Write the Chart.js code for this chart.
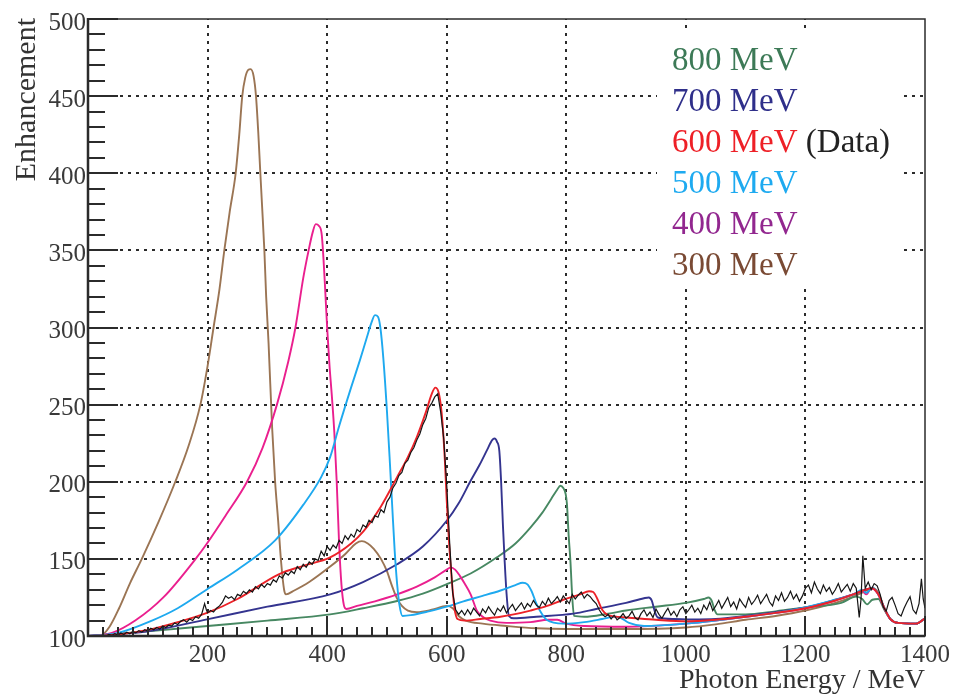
<!DOCTYPE html>
<html><head><meta charset="utf-8">
<script src="https://cdn.jsdelivr.net/npm/chart.js@4.4.1/dist/chart.umd.min.js"></script>
<style>html,body{margin:0;padding:0;background:#fff;overflow:hidden}</style>
</head><body>
<canvas id="c" width="955" height="695" style="display:block;width:955px;height:695px"></canvas>
<script>
// ---- tick values ----
const xMajorTicks = [200, 400, 600, 800, 1000, 1200, 1400];
const yMajorTicks = [100, 150, 200, 250, 300, 350, 400, 450, 500];
const xGridLines = [200, 400, 600, 800, 1000, 1200];
const yGridLines = [150, 200, 250, 300, 350, 400, 450];

// ---- legend ----
const legendLabels = ['800 MeV', '700 MeV', '600 MeV', '500 MeV', '400 MeV', '300 MeV'];
const legendColors = ['#3d7a57', '#2f2f8a', '#ee2027', '#1eaaf0', '#92278f', '#7a4a34'];

// ---- series [photon energy MeV, enhancement] ----
const data600 = [[20,100],[25,100.5],[30,100],[35,101],[40,100.5],[45,101.5],[50,100.5],[55,102],[60,101],[65,102.5],[70,101.5],[75,103],[80,102],[85,103.5],[90,102.5],[95,104],[100,103],[105,105],[110,104],[115,105.5],[120,104.5],[125,106.5],[130,105.5],[135,107],[140,106.5],[145,108.5],[150,107.5],[155,109.5],[160,110.5],[165,109],[170,111],[175,110],[180,112.5],[185,111.5],[190,114],[195,121],[198,117],[200,115],[205,116.5],[210,115.5],[215,118],[220,119.5],[225,122],[230,126],[235,124.5],[240,125.5],[245,123.5],[250,127],[255,126],[260,129],[265,127.5],[270,130],[275,128.5],[280,132],[285,130.5],[290,133.5],[295,131.5],[300,134],[305,133],[310,136.5],[315,135],[320,139],[325,137.5],[330,141],[335,139.5],[340,142],[345,140.5],[350,145],[355,143],[360,146.5],[365,144.5],[370,148],[375,146.5],[380,150],[385,149],[390,155],[395,152],[400,158],[405,155.5],[410,159],[415,157],[420,162],[425,160],[430,165],[435,162.5],[440,166],[445,164],[450,169],[455,167.5],[460,172],[465,170.5],[470,175],[475,173.5],[480,178],[485,177],[490,182],[495,180],[500,187],[505,190],[510,196],[515,199],[520,204],[525,206],[530,212],[535,214],[540,219],[545,222],[550,227],[555,231],[560,237],[565,241],[570,248],[575,251],[580,255],[585,257],[590,245],[595,228],[600,198],[605,160],[610,128],[615,117],[620,114],[625,116.5],[630,113.5],[635,117],[640,114],[645,118],[650,115.5],[655,113],[660,117.5],[665,115],[670,119],[675,116],[680,113.5],[685,118],[690,116],[695,119.5],[700,115],[705,118],[710,120.5],[715,116.5],[720,119],[725,121.5],[730,117.5],[735,121],[740,119],[745,123],[750,120],[755,118.5],[760,122.5],[765,120],[770,124.5],[775,121],[780,123],[785,125.5],[790,122],[795,126],[800,123.5],[805,121],[810,127],[815,124],[820,126.5],[825,128.5],[830,124.5],[835,127],[840,125.5],[845,123],[850,121],[855,117],[860,114],[865,112.5],[870,114],[875,111],[880,113.5],[885,110.5],[890,112],[895,114.5],[900,111.5],[905,113],[910,116],[915,112],[920,110.5],[925,114.5],[930,117],[935,113],[940,115.5],[945,112],[950,117.5],[955,114],[960,111.5],[965,115],[970,118],[975,113.5],[980,116],[985,112.5],[990,117],[995,119],[1000,114.5],[1005,117],[1010,120],[1015,115.5],[1020,118],[1025,114.5],[1030,120],[1035,117],[1040,122],[1045,116.5],[1050,119.5],[1055,123],[1060,118],[1065,121.5],[1070,125],[1075,119],[1080,122],[1085,117.5],[1090,124],[1095,121],[1100,118.5],[1105,125],[1110,120.5],[1115,123],[1120,126.5],[1125,121],[1130,124],[1135,127],[1140,122],[1145,119.5],[1150,126],[1155,123],[1160,128],[1165,122.5],[1170,125],[1175,129],[1180,124],[1185,127],[1190,122.5],[1195,126],[1200,131],[1205,133],[1210,128],[1215,135],[1220,130.5],[1225,127.5],[1230,133],[1235,129],[1240,131.5],[1245,127],[1250,130],[1255,134],[1260,128.5],[1265,131],[1270,133.5],[1275,129],[1280,134],[1285,131],[1290,112],[1293,124],[1296,152],[1300,131],[1305,135],[1310,130],[1315,134],[1320,132.5],[1325,127],[1330,119],[1335,116],[1340,123],[1345,125],[1350,120],[1355,114.5],[1360,113],[1365,118],[1370,122],[1375,125.5],[1380,117],[1385,114.5],[1390,121],[1394,137],[1397,124],[1400,118]];

const calc600 = [[0,100],[50,101],[100,104],[150,109],[199,115],[250,124],[319,140],[360,145.5],[405,151],[440,160],[461,168],[490,184],[517,203],[535,216],[550,229],[565,245],[575,257],[581,261],[586,258.5],[590,250],[593,238],[597,213],[600,188],[604,160],[609,134],[613,118],[618,111],[630,110],[656,111],[690,112.5],[712,114],[740,116.5],[768,119.5],[795,123.5],[823,127],[838,129],[845,128.5],[852,124],[860,117],[870,113.5],[901,112],[950,110.5],[1000,109.5],[1050,110.5],[1100,112.5],[1150,115],[1200,118],[1250,123],[1280,127],[1300,130],[1312,131],[1322,127],[1332,118],[1342,111],[1355,108.5],[1385,108],[1400,111.5]];

const calc800 = [[0,100],[100,103],[200,106.5],[300,110],[405,114],[460,118],[517,122.7],[560,127.5],[600,133.6],[640,140.5],[684,151],[715,160],[740,170.3],[760,180],[775,189],[785,195],[790,197.4],[795,196],[799,192],[801,186],[804,165],[807,148],[810,125],[813,113],[830,112.5],[870,114.5],[900,116.5],[950,119],[1000,121.5],[1030,124],[1038,125],[1043,123],[1048,117],[1053,114],[1100,114],[1150,116],[1200,118.5],[1260,121.5],[1285,125.5],[1295,124],[1303,120.5],[1312,123.5],[1322,124],[1332,117],[1342,111],[1355,108.5],[1385,108],[1400,111.5]];

const calc700 = [[0,100],[100,103],[199,110.8],[300,119],[405,127],[460,135],[517,146.5],[560,158],[600,174.7],[620,186],[640,200.6],[655,211],[668,221],[676,227],[680,228],[684,226],[688,220],[691,200],[694,172],[697,148],[700,128],[704,113],[712,111.5],[750,112.5],[812,114.5],[850,117.5],[900,121.5],[930,124.5],[938,125],[943,123],[948,116],[953,112],[980,111],[1010,110.7],[1050,111],[1100,113],[1150,115.5],[1200,118.5],[1250,123.5],[1280,127],[1300,130],[1312,131],[1322,127],[1332,118],[1342,111],[1355,108.5],[1385,108],[1400,111.5]];

const calc500 = [[0,100],[50,102],[107,110],[150,118],[200,130.5],[250,143],[313,162],[360,185],[390,203],[405,216],[420,236],[440,261],[455,279],[466,293],[474,303],[480,308],[485,307],[489,300],[494,280],[500,246],[505,212],[509,183],[513,155],[517,134],[521,120],[526,113],[540,113.5],[570,116],[600,119],[628,122.5],[660,126],[690,129.5],[715,133],[727,134.5],[735,133.5],[742,129],[750,121],[758,115],[767,110.5],[795,108],[830,109],[860,111],[880,112.5],[890,112],[905,108.5],[930,106.5],[1000,108],[1050,110],[1100,112.5],[1150,115],[1200,118.5],[1250,123.5],[1280,127],[1295,130],[1302,128],[1312,131.5],[1322,127],[1332,118],[1342,111],[1355,108.5],[1385,108],[1400,111.5]];

const calc400 = [[0,100],[40,102],[79,110],[126,125],[180,150],[199,160],[230,178],[266,200],[292,222],[316,250],[335,278],[347,300],[360,332],[369,350],[376,362],[381,367],[386,366],[391,360],[396,330],[400,300],[404,275],[408,255],[412,232],[416,200],[420,160],[424,133],[428,120],[432,117.5],[450,119.5],[480,122.5],[517,127],[550,132],[580,138],[600,143],[607,144.5],[614,143],[622,139],[630,134],[640,127],[651,116],[662,112],[673,110],[700,108.5],[740,109],[770,110.5],[785,110.5],[800,108],[830,106.5],[900,106],[1000,108],[1050,110],[1100,112.5],[1150,115],[1200,118],[1250,123],[1280,127],[1295,129],[1302,127],[1310,131],[1320,128],[1332,118],[1342,111],[1355,108.5],[1385,108],[1400,111.5]];

const calc300 = [[0,100],[22,100.5],[36,106],[52,118],[70,134],[90,150],[118,174],[146,200],[168,223],[188,250],[200,275],[210,300],[220,325],[228,350],[237,375],[247,400],[253,425],[258,450],[263,462],[268,467],[272,467.5],[277,463],[281,450],[285,425],[288,402],[291,380],[295,350],[298,320],[302,290],[308,235],[313,200],[318,175],[323,148],[328,130],[331,127],[345,129.5],[370,135],[405,145],[430,153],[448,160],[458,161.5],[468,160],[478,156.5],[490,150],[500,142],[508,133],[516,125],[525,119.5],[535,116.5],[550,115.5],[575,117],[600,119.5],[610,118],[620,113],[632,110],[660,108],[700,106.5],[750,105],[800,104.5],[900,104.5],[1000,105.5],[1050,107.5],[1100,110.5],[1150,113],[1200,116.5],[1250,121.5],[1280,125.5],[1300,129],[1312,131],[1322,128],[1332,118],[1342,111],[1355,108.5],[1385,108],[1400,111.5]];

const toXY = a => a.map(p => ({x: p[0], y: p[1]}));
const SERIF = "'Liberation Serif', 'Times New Roman', serif";

function model(label, arr, color) {
  return {label, data: toXY(arr), borderColor: color, borderWidth: 1.9, pointRadius: 0,
          fill: false, cubicInterpolationMode: 'monotone'};
}

const decor = {
  id: 'decor',
  beforeDatasetsDraw(chart) {
    const {ctx, chartArea: a, scales: {x, y}} = chart;
    ctx.save();
    ctx.strokeStyle = '#2b2b2b'; ctx.lineWidth = 2; ctx.setLineDash([3, 5]);
    xGridLines.forEach(v => {
      const p = Math.round(x.getPixelForValue(v));
      ctx.beginPath(); ctx.moveTo(p, a.bottom); ctx.lineTo(p, a.top); ctx.stroke();
    });
    yGridLines.forEach(v => {
      const p = Math.round(y.getPixelForValue(v));
      ctx.beginPath(); ctx.moveTo(a.left, p); ctx.lineTo(a.right, p); ctx.stroke();
    });
    // legend background box (white, no border)
    ctx.fillStyle = '#ffffff';
    ctx.fillRect(657, a.top + 12, 243, 257);
    ctx.restore();
  },
  afterDatasetsDraw(chart) {
    const {ctx, chartArea: a, scales: {x, y}} = chart;
    ctx.save();
    ctx.strokeStyle = '#2b2b2b';
    ctx.lineWidth = 2;
    for (let v = 100; v <= 500; v += 10) {
      const p = Math.round(y.getPixelForValue(v));
      const len = (v % 50 === 0) ? 30 : 17;
      ctx.beginPath(); ctx.moveTo(a.left, p); ctx.lineTo(a.left + len, p); ctx.stroke();
    }
    for (let v = 0; v <= 1400; v += 25) {
      const p = Math.round(x.getPixelForValue(v));
      const len = (v % 200 === 0) ? 20 : 9;
      ctx.beginPath(); ctx.moveTo(p, a.bottom); ctx.lineTo(p, a.bottom - len); ctx.stroke();
    }
    ctx.lineWidth = 1.5;
    ctx.strokeRect(a.left, a.top, a.right - a.left, a.bottom - a.top);
    ctx.lineWidth = 2.5;
    ctx.beginPath(); ctx.moveTo(a.left, a.top - 1); ctx.lineTo(a.left, a.bottom); ctx.lineTo(a.right, a.bottom); ctx.stroke();
    ctx.restore();
  },
  afterDraw(chart) {
    const {ctx, chartArea: a} = chart;
    ctx.save();
    ctx.font = '33px ' + SERIF;
    ctx.textAlign = 'left'; ctx.textBaseline = 'alphabetic';
    legendLabels.forEach((t, i) => {
      const by = 70 + i * 41;
      ctx.fillStyle = legendColors[i];
      ctx.fillText(t, 672, by);
      if (i === 2) {
        const w = ctx.measureText(t + ' ').width;
        ctx.fillStyle = '#222';
        ctx.fillText('(Data)', 672 + w, by);
      }
    });
    ctx.fillStyle = '#333';
    ctx.font = '28px ' + SERIF;
    ctx.textAlign = 'right';
    ctx.fillText('Photon Energy / MeV', a.right, 688);
    ctx.font = '30px ' + SERIF;
    ctx.translate(35, a.top - 1);
    ctx.rotate(-Math.PI / 2);
    ctx.textAlign = 'right';
    ctx.fillText('Enhancement', 0, 0);
    ctx.restore();
  }
};

new Chart(document.getElementById('c'), {
  type: 'line',
  data: {
    datasets: [
      {label: '600 MeV (Data)', data: toXY(data600), borderColor: '#151515', borderWidth: 1.2, pointRadius: 0, fill: false, tension: 0},
      model('600 MeV', calc600, '#ec2228'),
      model('500 MeV', calc500, '#1ea9ef'),
      model('400 MeV', calc400, '#ea1f8e'),
      model('700 MeV', calc700, '#34348f'),
      model('800 MeV', calc800, '#478862'),
      model('300 MeV', calc300, '#9b7554')
    ]
  },
  options: {
    responsive: false,
    devicePixelRatio: 1,
    animation: false,
    layout: {padding: {left: 0, right: 30, top: 19, bottom: 0}},
    plugins: {legend: {display: false}, tooltip: {enabled: false}},
    scales: {
      x: {
        type: 'linear', min: 0, max: 1400,
        afterBuildTicks: s => { s.ticks = [0].concat(xMajorTicks).map(v => ({value: v})); },
        ticks: {autoSkip: false, maxRotation: 0, padding: 4, color: '#3a3a3a',
                font: {family: SERIF, size: 25},
                callback: v => (v === 0 ? '' : String(v))},
        grid: {display: false, drawTicks: false},
        border: {display: false},
        afterFit: s => { s.height = 59; }
      },
      y: {
        min: 100, max: 500,
        afterBuildTicks: s => { s.ticks = yMajorTicks.map(v => ({value: v})); },
        ticks: {padding: 2, labelOffset: 4, color: '#3a3a3a', font: {family: SERIF, size: 25}},
        grid: {display: false, drawTicks: false},
        border: {display: false},
        afterFit: s => { s.width = 88; }
      }
    }
  },
  plugins: [decor]
});
</script>
</body></html>
